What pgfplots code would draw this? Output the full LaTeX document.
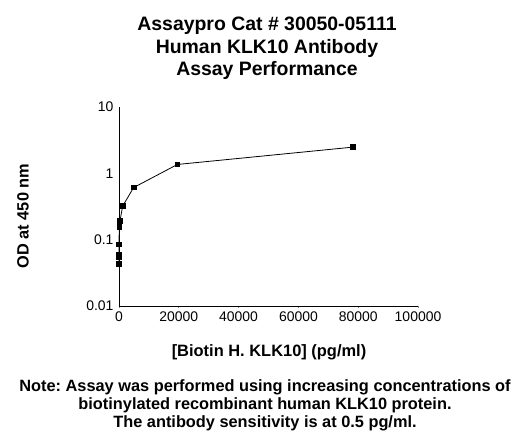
\documentclass[border=0pt]{standalone}
\usepackage{pgfplots}
\pgfplotsset{compat=1.18}
\usepackage{fontspec}
\setmainfont{Liberation Sans}
\frenchspacing
\begin{document}
\begin{tikzpicture}[x=1bp,y=1bp]
\path[use as bounding box] (0,0) rectangle (530,447);
\begin{axis}[
  at={(119bp,141bp)}, anchor=south west,
  width=299bp, height=199bp, scale only axis,
  xmin=0, xmax=100000, ymin=0.01, ymax=10,
  ymode=log,
  axis lines=left, axis line style={-, line width=0.8bp},
  xtick={0,20000,40000,60000,80000,100000},
  ytick={0.01,0.1,1,10},
  yticklabels={0.01,0.1,1,10},
  scaled x ticks=false,
  minor tick num=0, minor ytick={},
  tick align=outside, major tick length=2bp,
  ytick style={draw=none},
  tick style={line width=0.8bp},
  /pgf/number format/assume math mode=true,
  xticklabel={\pgfmathprintnumber[fixed,1000 sep={}]{\tick}},
  ticklabel style={font=\fontsize{14}{15}\selectfont},
  clip=false,
]
\addplot[black, line width=0.8bp, mark=square*, mark size=2.3bp] coordinates {
 (0,0.043) (1.2,0.055) (4.8,0.060) (19,0.085) (76,0.155) (305,0.19) (1221,0.32) (4883,0.61) (19531,1.36) (78125,2.48)
};
\end{axis}
\node[font=\bfseries\fontsize{19.5}{22}\selectfont] at (267,421) {Assaypro Cat \# 30050-05111};
\node[font=\bfseries\fontsize{19.5}{22}\selectfont] at (267,399) {Human KLK10 Antibody};
\node[font=\bfseries\fontsize{19.5}{22}\selectfont] at (267,377) {Assay Performance};
\node[font=\bfseries\fontsize{16.4}{18}\selectfont, rotate=90] at (23,231) {OD at 450 nm};
\node[font=\bfseries\fontsize{16.5}{18}\selectfont] at (269,95) {[Biotin H. KLK10] (pg/ml)};
\node[font=\bfseries\fontsize{16.4}{18}\selectfont] at (265,60) {Note: Assay was performed using increasing concentrations of};
\node[font=\bfseries\fontsize{16.4}{18}\selectfont] at (265,42) {biotinylated recombinant human KLK10 protein.};
\node[font=\bfseries\fontsize{16.4}{18}\selectfont] at (265,24) {The antibody sensitivity is at 0.5 pg/ml.};
\end{tikzpicture}
\end{document}
